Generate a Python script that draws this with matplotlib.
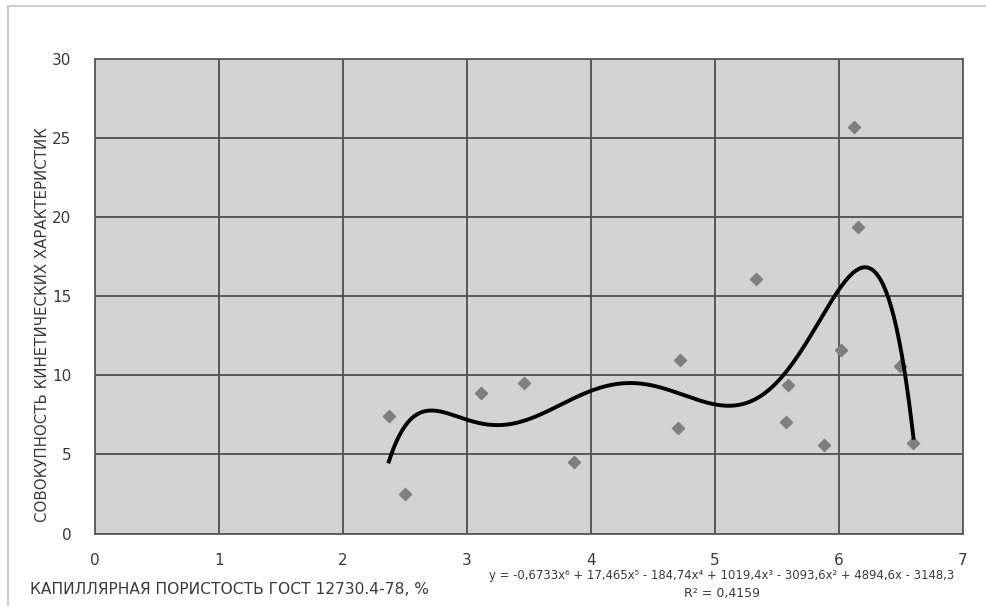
import matplotlib
matplotlib.use("Agg")
import matplotlib.pyplot as plt
from matplotlib.patches import Rectangle
import numpy as np

plt.rcParams['font.family'] = ['DejaVu Sans']

# porosity, % (x) and kinetic characteristic (y)
porosity = [2.37, 2.50, 3.11, 3.46, 3.86, 4.70, 4.72, 5.33, 5.57, 5.59,
            5.88, 6.02, 6.12, 6.15, 6.49, 6.60]
kinetic = [7.4, 2.5, 8.9, 9.5, 4.5, 6.7, 11.0, 16.1, 7.05, 9.4,
           5.6, 11.6, 25.7, 19.4, 10.6, 5.7]

x_ticks = [0, 1, 2, 3, 4, 5, 6, 7]
y_ticks = [0, 5, 10, 15, 20, 25, 30]

eq_text = ("y = -0,6733x\u2076 + 17,465x\u2075 - 184,74x\u2074 + 1019,4x\u00b3 "
           "- 3093,6x\u00b2 + 4894,6x - 3148,3")
r2_text = "R\u00b2 = 0,4159"

txt_color = '#3a3a3a'

fig = plt.figure(figsize=(9.86, 6.06), dpi=100)
fig.patch.set_facecolor('white')
fig.patches.append(Rectangle((0.008, -0.05), 1.2, 1.04, transform=fig.transFigure,
                             fill=False, edgecolor='#cccccc', linewidth=1.5))

ax = fig.add_axes([0.0963, 0.1196, 0.8804, 0.783])
ax.set_facecolor('#d3d3d3')

ax.scatter(porosity, kinetic, marker='D', s=38, color='#7f7f7f', zorder=3)

# 6th-order polynomial trendline
coef = np.polyfit(porosity, kinetic, 6)
xs = np.linspace(min(porosity), max(porosity), 400)
ax.plot(xs, np.polyval(coef, xs), color='black', linewidth=2.8, zorder=4)

ax.set_xlim(0, 7)
ax.set_ylim(0, 30)
ax.set_xticks(x_ticks)
ax.set_yticks(y_ticks)
ax.grid(True, color='#4d4d4d', linewidth=1.3)
ax.set_axisbelow(True)
for s in ax.spines.values():
    s.set_color('#5a5a5a')
    s.set_linewidth(1.3)
ax.tick_params(length=0, labelsize=11, colors=txt_color)
ax.tick_params(axis='x', pad=14)
ax.tick_params(axis='y', pad=17)

fig.text(0.043, 1 - 325 / 606, "СОВОКУПНОСТЬ КИНЕТИЧЕСКИХ ХАРАКТЕРИСТИК",
         rotation=90, ha='center', va='center', fontsize=10.8, color=txt_color)
fig.text(0.03, 1 - 590 / 606, "КАПИЛЛЯРНАЯ ПОРИСТОСТЬ ГОСТ 12730.4-78, %",
         ha='left', va='center', fontsize=11.2, color=txt_color)
fig.text(722 / 986, 1 - 575 / 606, eq_text, ha='center', va='center',
         fontsize=8.4, color=txt_color)
fig.text(722 / 986, 1 - 594 / 606, r2_text, ha='center', va='center',
         fontsize=9, color=txt_color)

fig.savefig('out.png', dpi=100)
